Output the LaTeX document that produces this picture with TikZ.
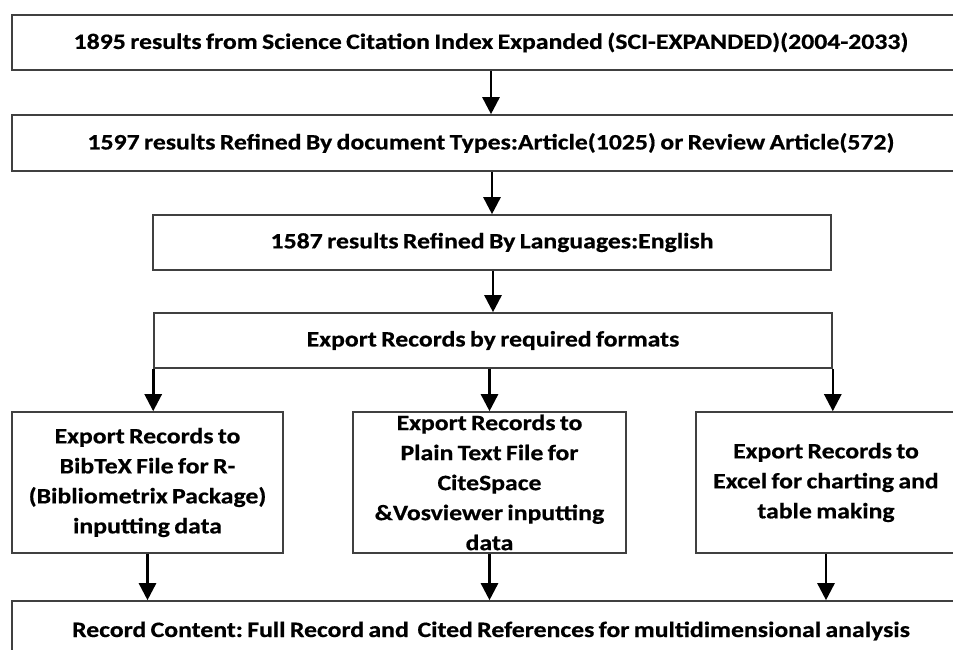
\documentclass[tikz,border=0pt]{standalone}
\usepackage{fontspec}
\setmainfont{Carlito}[FakeStretch=1.17, WordSpace=0.75, BoldFeatures={FakeBold=0.6}]
\usetikzlibrary{arrows.meta}
\frenchspacing

\begin{document}
\begin{tikzpicture}[x=1pt, y=-1pt,
	box/.style={draw=black!75, line width=1.6pt, rectangle, align=center, inner sep=0pt,
		font=\bfseries\fontsize{22}{30}\selectfont},
	arr/.style={-{Triangle[width=17pt,length=17pt]}, line width=2.6pt}]
	\useasboundingbox (0,0) rectangle (953,650);
	\clip (0,0) rectangle (953,650);

	\draw (491, 42.5) node[box, minimum width=958pt, minimum height=55pt] (src)
		{1895 results from Science Citation Index Expanded (SCI-EXPANDED)(2004-2033)};
	\draw (491, 143) node[box, minimum width=958pt, minimum height=56pt] (refine)
		{1597 results Refined By document Types:Article(1025) or Review Article(572)};
	\draw (492, 242.5) node[box, minimum width=678pt, minimum height=55pt] (lang)
		{1587 results Refined By Languages:English};
	\draw (493, 340.5) node[box, minimum width=678pt, minimum height=55pt] (export)
		{Export Records by required formats};

	\draw (147.5, 482.5) node[box, minimum width=271pt, minimum height=141pt] (bib)
		{Export Records to\\BibTeX File for R-\\(Bibliometrix Package)\\inputting data};
	\draw (489.5, 482.5) node[box, minimum width=273pt, minimum height=141pt] (plain)
		{Export Records to\\Plain Text File for\\CiteSpace\\\&Vosviewer inputting\\data};
	\draw (826, 482.5) node[box, minimum width=260pt, minimum height=141pt] (excel)
		{Export Records to\\Excel for charting and\\table making};

	\draw (491, 631) node[box, minimum width=958pt, minimum height=60pt] (content)
		{Record Content: Full Record and~ Cited References for multidimensional analysis};

	% flow down the chain
	\draw[arr] (src) -- (refine);
	\draw[arr] (lang.north |- refine.south) -- (lang.north);
	\draw[arr] (export.north |- lang.south) -- (export.north);

	% split into the three formats
	\draw[arr] (export.south west) -- (export.south west |- bib.north);
	\draw[arr] (plain.north |- export.south) -- (plain.north);
	\draw[arr] (export.south east) -- (export.south east |- excel.north);

	% join again
	\draw[arr] (bib.south) -- (bib.south |- content.north);
	\draw[arr] (plain.south) -- (plain.south |- content.north);
	\draw[arr] (excel.south) -- (excel.south |- content.north);
\end{tikzpicture}
\end{document}
